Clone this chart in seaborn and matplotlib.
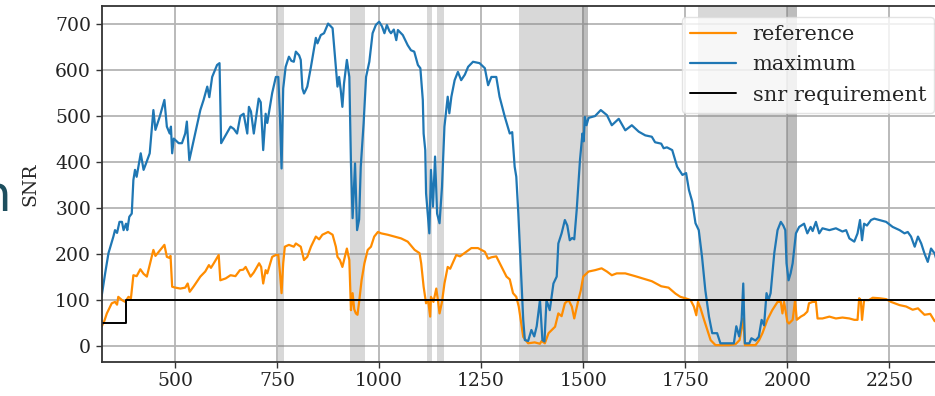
import numpy as np
import pandas as pd
import matplotlib
matplotlib.use("Agg")
import matplotlib.pyplot as plt
import seaborn as sns

# dados
max_x = [320, 329, 337, 349, 353, 358, 364, 370, 374, 380, 383, 388, 394, 398, 402, 406, 416, 423, 429, 438,
         447, 452, 463, 474, 480, 487, 490, 493, 497, 509, 517, 525, 529, 535, 546, 562, 570, 579, 584, 591,
         603, 609, 613, 622, 636, 644, 652, 660, 668, 677, 681, 686, 693, 705, 710, 716, 722, 726, 738, 747,
         753, 757, 761, 765, 771, 779, 785, 791, 796, 804, 808, 812, 816, 820, 824, 833, 845, 849, 857, 865,
         875, 886, 894, 898, 902, 906, 910, 914, 921, 927, 931, 935, 941, 946, 951, 955, 962, 968, 976, 984,
         992, 1000, 1007, 1013, 1019, 1025, 1029, 1036, 1042, 1046, 1058, 1070, 1078, 1086, 1095, 1101, 1107,
         1109, 1113, 1115, 1123, 1127, 1132, 1137, 1142, 1148, 1154, 1160, 1168, 1172, 1177, 1185, 1193, 1201,
         1210, 1218, 1230, 1246, 1259, 1267, 1275, 1287, 1295, 1308, 1320, 1326, 1332, 1336, 1341, 1347, 1353,
         1357, 1365, 1373, 1380, 1386, 1394, 1400, 1405, 1410, 1418, 1427, 1435, 1439, 1447, 1455, 1461, 1467,
         1473, 1478, 1484, 1492, 1498, 1501, 1504, 1508, 1513, 1529, 1543, 1558, 1570, 1587, 1603, 1619, 1636,
         1652, 1668, 1676, 1691, 1697, 1705, 1718, 1730, 1743, 1752, 1759, 1767, 1775, 1783, 1791, 1799, 1808,
         1816, 1828, 1836, 1857, 1869, 1875, 1882, 1888, 1892, 1896, 1907, 1912, 1922, 1930, 1937, 1943, 1949,
         1954, 1959, 1968, 1976, 1984, 1990, 1995, 1998, 2003, 2008, 2013, 2021, 2029, 2041, 2049, 2057, 2062,
         2070, 2078, 2086, 2103, 2119, 2135, 2144, 2152, 2164, 2172, 2178, 2183, 2188, 2195, 2205, 2213, 2225,
         2242, 2258, 2275, 2287, 2295, 2303, 2312, 2320, 2328, 2336, 2344, 2352, 2361, 2369, 2380]
max_y = [107, 159, 202, 238, 252, 246, 270, 270, 252, 266, 252, 281, 288, 361, 383, 368, 419, 383, 397, 419,
         513, 470, 500, 535, 477, 462, 477, 419, 451, 441, 441, 462, 488, 404, 448, 513, 535, 564, 541, 585,
         611, 615, 441, 455, 477, 472, 462, 500, 505, 462, 520, 510, 462, 538, 530, 426, 505, 485, 550, 585,
         585, 500, 386, 560, 607, 629, 620, 618, 640, 632, 622, 560, 549, 556, 564, 607, 670, 658, 676, 680,
         701, 691, 607, 564, 585, 556, 520, 571, 622, 585, 397, 278, 397, 252, 275, 390, 484, 585, 618, 680,
         698, 705, 695, 680, 698, 685, 680, 688, 665, 687, 676, 654, 643, 640, 611, 604, 535,
         462, 426, 332, 245, 383, 303, 412, 288, 267, 346, 477, 542, 506, 542, 578, 596, 578,
         590, 607, 618, 615, 604, 567, 585, 585, 542, 498, 462, 465, 390, 368, 288, 172, 57,
         13, 11, 35, 21, 43, 100, 13, 10, 100, 78, 136, 151, 223, 245, 274, 262, 230,
         235, 232, 296, 404, 462, 445, 498, 480, 496, 500, 513, 502, 480, 494, 469, 480, 466,
         458, 455, 443, 440, 430, 432, 426, 390, 372, 376, 339, 314, 267, 252, 194, 122, 64,
         28, 28, 6, 6, 6, 43, 21, 57, 136, 6, 6, 17, 12, 20, 57, 45, 115,
         100, 115, 202, 252, 270, 262, 252, 180, 143, 158, 180, 245, 259, 266, 245, 259, 250,
         270, 245, 256, 252, 256, 249, 252, 234, 227, 245, 274, 230, 266, 262, 274, 277, 274,
         270, 259, 252, 245, 248, 238, 216, 238, 223, 201, 183, 212, 201, 176, 190]

ref_x = [320, 327, 333, 345, 353, 358, 361, 370, 378, 386, 392, 398, 406, 415, 423, 431, 443, 447, 452, 464,
         474, 480, 485, 489, 493, 501, 513, 525, 531, 536, 546, 562, 574, 583, 588, 595, 607, 611, 624, 636,
         648, 659, 667, 673, 685, 693, 706, 711, 716, 722, 726, 738, 747, 753, 757, 761, 765, 769, 779, 791,
         796, 808, 816, 824, 833, 845, 853, 861, 875, 886, 894, 898, 904, 910, 916, 921, 927, 931, 935, 939,
         943, 947, 951, 957, 964, 972, 980, 988, 997, 1005, 1021, 1037, 1054, 1070, 1087, 1099, 1103, 1109,
         1115, 1120, 1125, 1127, 1133, 1140, 1144, 1148, 1154, 1160, 1168, 1174, 1180, 1189, 1198, 1209, 1226,
         1242, 1259, 1267, 1275, 1287, 1300, 1312, 1320, 1328, 1336, 1342, 1349, 1353, 1365, 1381, 1394, 1398,
         1406, 1415, 1431, 1439, 1447, 1455, 1464, 1472, 1478, 1488, 1494, 1500, 1513, 1529, 1545, 1558, 1570,
         1582, 1603, 1627, 1668, 1691, 1709, 1726, 1738, 1750, 1763, 1771, 1777, 1781, 1787, 1796, 1804, 1812,
         1824, 1857, 1873, 1883, 1892, 1896, 1922, 1931, 1939, 1951, 1963, 1976, 1984, 1988, 1992, 2000, 2004,
         2013, 2019, 2023, 2033, 2041, 2049, 2053, 2062, 2070, 2074, 2086, 2103, 2119, 2135, 2152, 2164, 2172,
         2176, 2180, 2183, 2188, 2200, 2209, 2225, 2242, 2254, 2275, 2291, 2307, 2320, 2336, 2350, 2361, 2369,
         2380]
ref_y = [42, 55, 71, 93, 96, 90, 107, 100, 96, 107, 104, 154, 152, 167, 157, 151, 194, 209, 196, 209,
         220, 194, 192, 196, 129, 127, 125, 127, 136, 118, 130, 151, 162, 176, 170, 180, 198, 143, 147, 154,
         152, 165, 166, 172, 151, 160, 180, 172, 136, 165, 158, 194, 198, 198, 160, 115, 180, 216, 220, 216,
         223, 216, 187, 194, 216, 238, 232, 242, 248, 242, 216, 194, 187, 172, 194, 212, 187, 78, 115, 80,
         71, 68, 96, 143, 180, 209, 216, 238, 248, 245, 242, 238, 234, 227, 209, 202, 180, 129,
         93, 100, 64, 107, 96, 125, 100, 71, 96, 136, 172, 168, 180, 198, 195, 202, 213,
         213, 205, 190, 193, 195, 172, 151, 145, 115, 107, 86, 45, 20, 6, 8, 5, 11,
         6, 28, 42, 71, 65, 93, 100, 86, 60, 100, 121, 151, 162, 165, 169, 162, 154,
         158, 158, 152, 141, 130, 127, 114, 107, 104, 100, 86, 67, 96, 83, 57, 35, 13,
         2, 2, 4, 13, 60, 2, 2, 13, 28, 57, 78, 96, 96, 71, 96, 53, 49,
         57, 100, 57, 64, 68, 75, 93, 96, 96, 60, 60, 64, 60, 62, 60, 57, 57,
         104, 100, 57, 100, 100, 105, 104, 102, 96, 89, 86, 79, 82, 68, 70, 54, 61,
         58]

req_x = [320, 380, 2400]
req_y = [50, 100, 100]

# regioes sombreadas
faixa_ini = [752, 929, 1117, 1142, 1343, 1497, 1781, 2000]
faixa_fim = [766, 966, 1130, 1160, 1511, 1511, 2023, 2023]

sns.set_style("whitegrid", {"grid.color": "#b4b4b4", "axes.edgecolor": "#333333",
                            "xtick.bottom": True, "ytick.left": True})
plt.rcParams['font.family'] = ['DejaVu Serif']
plt.rcParams['font.size'] = 13.5

fig = plt.figure(figsize=(9.35, 3.96), dpi=100)
ax = fig.add_axes([0.1086, 0.0866, 0.902, 0.898])

for a, b in zip(faixa_ini, faixa_fim):
    ax.axvspan(a, b, color='gray', alpha=0.3, lw=0)

sns.lineplot(x=ref_x, y=ref_y, color='darkorange', lw=1.6, label='reference', ax=ax)
sns.lineplot(x=max_x, y=max_y, color='#1f77b4', lw=1.6, label='maximum', ax=ax)
sns.lineplot(x=req_x, y=req_y, color='black', lw=1.4, drawstyle='steps-post', label='snr requirement', ax=ax)

ax.set_xlim(320, 2386)
ax.set_ylim(-34, 739)
ax.set_xticks([500, 750, 1000, 1250, 1500, 1750, 2000, 2250])
ax.set_yticks([0, 100, 200, 300, 400, 500, 600, 700])
ax.set_ylabel('SNR', labelpad=11)
ax.set_xlabel('')
ax.grid(True, lw=1.3)
ax.tick_params(length=4, width=1, colors='#333333', labelcolor='#222222')
for s in ax.spines.values():
    s.set_linewidth(1.3)

leg = ax.legend(loc='upper right', handlelength=2.2, labelspacing=0.55, fontsize=15,
                framealpha=0.8, edgecolor='#dddddd')

# letra cortada na borda esquerda
fig.text(-0.022, 0.503, 'n', color='#1d4e5e', fontsize=36, fontfamily='DejaVu Sans', ha='left', va='center')

fig.savefig('out.png', dpi=100)
